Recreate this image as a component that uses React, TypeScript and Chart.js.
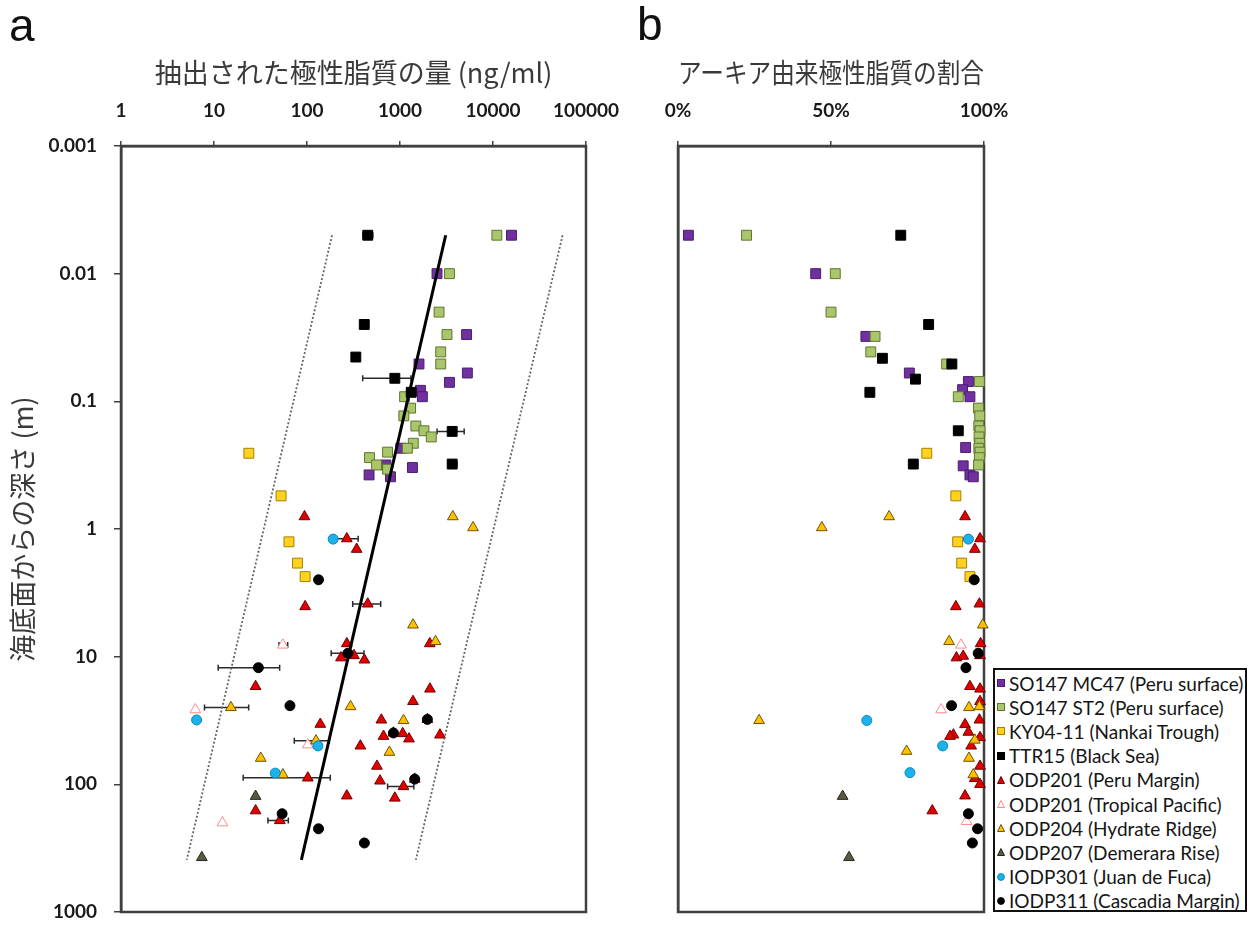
import React, { useEffect, useRef } from 'react';
import { Chart, registerables } from 'chart.js';

Chart.register(...registerables);

// ---------- text ----------
const amountTitle = '抽出された極性脂質の量 (ng/ml)';
const fractionTitle = 'アーキア由来極性脂質の割合';
const depthTitle = '海底面からの深さ (m)';

// ---------- tick labels ----------
const amountTicks = [1, 10, 100, 1000, 10000, 100000];
const depthTicks = [0.001, 0.01, 0.1, 1, 10, 100, 1000];
const fractionTicks = [0, 50, 100];

const seriesNames = [
  'SO147 MC47 (Peru surface)',
  'SO147 ST2 (Peru surface)',
  'KY04-11 (Nankai Trough)',
  'TTR15 (Black Sea)',
  'ODP201 (Peru Margin)',
  'ODP201 (Tropical Pacific)',
  'ODP204 (Hydrate Ridge)',
  'ODP207 (Demerara Rise)',
  'IODP301 (Juan de Fuca)',
  'IODP311 (Cascadia Margin)',
];

// ---------- panel a: [amount ng/ml, depth m] ----------
const mc47Amount = [
  [15800, 0.005], [2500, 0.01], [5200, 0.03], [1600, 0.051], [5300, 0.06], [3400, 0.071],
  [1660, 0.082], [1740, 0.092], [1020, 0.233], [705, 0.315], [1360, 0.33], [465, 0.377], [790, 0.39],
];
const st2Amount = [
  [11000, 0.005], [3400, 0.01], [2630, 0.02], [3200, 0.03], [2740, 0.041], [2740, 0.051],
  [1120, 0.092], [1300, 0.113], [1100, 0.13], [1480, 0.156], [1810, 0.17], [2170, 0.19],
  [1390, 0.213], [1200, 0.233], [735, 0.25], [470, 0.276], [560, 0.315], [735, 0.34],
];
const ky0411Amount = [[23.7, 0.255], [52.6, 0.55], [64, 1.26], [79, 1.85], [95.5, 2.36]];
const ttr15Amount = [
  [450, 0.005], [413, 0.025], [335, 0.045], [880, 0.066], [1320, 0.085], [3640, 0.172], [3640, 0.31],
];
const odp201PeruAmount = [
  [94, 0.8], [268, 1.19], [342, 1.44], [95.5, 4.05], [450, 3.86], [2090, 7.9], [268, 7.9],
  [232, 10.2], [320, 9.8], [414, 10.6], [28, 17.1], [2100, 17.9], [1380, 22.4], [139, 33.8],
  [630, 31.3], [1970, 31], [665, 42], [850, 39.6], [1070, 40], [1250, 44], [2690, 41], [375, 50],
  [565, 72], [102, 89], [610, 94], [1440, 91], [1090, 104], [880, 128], [268, 123], [28, 161], [51, 192],
];
const odp201TropAmount = [[55, 8.1], [6.3, 26], [102, 49], [12.3, 200]];
const odp204Amount = [
  [3700, 0.8], [6100, 0.975], [1380, 5.64], [2410, 7.6], [15.2, 25], [294, 24.6], [1090, 31.6],
  [125, 45.6], [770, 56], [31.8, 62.4], [55, 84],
];
const odp207Amount = [[28, 124], [7.4, 374]];
const iodp301Amount = [[191, 1.2], [6.5, 31.3], [131, 50], [45.6, 81.7]];
const iodp311Amount = [
  [133, 2.5], [275, 9.4], [30, 12.2], [65.6, 24.2], [1970, 31], [850, 39.6], [1440, 91],
  [54, 170], [133, 223], [414, 288],
];

// error bars: [low, high, depth]
const amountErrorBars = [
  [400, 510, 0.005], [397, 1310, 0.066], [2500, 4900, 0.172], [3300, 4100, 0.31],
  [205, 355, 1.19], [310, 620, 3.86], [50, 62, 8.1], [182, 410, 9.4], [11.1, 50.8, 12.2],
  [7.9, 23.6, 25], [73, 174, 45.6], [20.6, 178, 89], [735, 1410, 104], [38, 63, 192],
];

// trend lines: [amount, depth]
const trendCenter = [[3100, 0.005], [87, 390]];
const trendLower = [[186, 0.005], [5.1, 390]];
const trendUpper = [[56000, 0.005], [1480, 390]];

// ---------- panel b: [archaeal share %, depth m] ----------
const mc47Fraction = [
  [3.4, 0.005], [45, 0.01], [61.4, 0.031], [75.6, 0.06], [94.9, 0.07], [93, 0.081],
  [95.4, 0.092], [94, 0.23], [93.2, 0.32], [95.4, 0.377], [96.5, 0.39],
];
const st2Fraction = [
  [22.4, 0.005], [51.4, 0.01], [50, 0.02], [64.4, 0.031], [63, 0.041], [87.8, 0.051], [98.5, 0.07],
  [91.6, 0.092], [98.2, 0.113], [98.6, 0.13], [98.3, 0.156], [98.7, 0.17], [98.4, 0.19],
  [98.6, 0.213], [98.3, 0.233], [98.7, 0.25], [98.5, 0.276], [98.2, 0.315],
];
const ky0411Fraction = [[81.3, 0.255], [90.8, 0.55], [91.4, 1.26], [92.7, 1.85], [95.4, 2.36]];
const ttr15Fraction = [
  [72.8, 0.005], [81.9, 0.025], [66.8, 0.046], [89.5, 0.051], [77.6, 0.067], [62.7, 0.085],
  [91.6, 0.17], [76.9, 0.31],
];
const odp201PeruFraction = [
  [93.8, 0.8], [98.7, 1.19], [97, 1.44], [90.8, 4.05], [98.5, 3.86], [98.9, 7.9], [91, 10.2],
  [93.2, 9.9], [98.7, 9.8], [95.4, 17.1], [98.7, 17.9], [98.7, 22.4], [98.5, 31.3], [93.8, 34],
  [94.9, 39], [90, 41], [88.9, 42], [98.7, 43], [95.8, 50], [98.7, 72], [97, 90], [98.7, 100],
  [93.8, 123], [83.1, 161],
];
const odp201TropFraction = [[92.5, 8.1], [86, 26], [94.3, 195]];
const odp204Fraction = [
  [69, 0.8], [47, 0.975], [99.6, 5.64], [88.6, 7.6], [95.1, 25], [98.5, 24.6], [26.5, 31.6],
  [97, 45], [74.7, 55], [95.1, 62.4], [96.5, 84],
];
const odp207Fraction = [[53.8, 124], [55.9, 374]];
const iodp301Fraction = [[94.9, 1.2], [61.7, 31.6], [86.5, 50], [75.8, 81]];
const iodp311Fraction = [
  [96.8, 2.5], [98.1, 9.4], [94.1, 12.2], [89.4, 24.2], [94.9, 170], [97.9, 223], [96.2, 288],
];

const amountSeries = [
  mc47Amount, st2Amount, ky0411Amount, ttr15Amount, odp201PeruAmount,
  odp201TropAmount, odp204Amount, odp207Amount, iodp301Amount, iodp311Amount,
];
const fractionSeries = [
  mc47Fraction, st2Fraction, ky0411Fraction, ttr15Fraction, odp201PeruFraction,
  odp201TropFraction, odp204Fraction, odp207Fraction, iodp301Fraction, iodp311Fraction,
];

// ---------- styles ----------
const markerStyles = [
  { shape: 'rect', fill: '#7030A0', stroke: '#4A1E6E', r: 7 },
  { shape: 'rect', fill: '#A9C66A', stroke: '#5F7530', r: 7 },
  { shape: 'rect', fill: '#FFD21F', stroke: '#A87F00', r: 7 },
  { shape: 'rect', fill: '#000000', stroke: '#000000', r: 7 },
  { shape: 'triangle', fill: '#E00000', stroke: '#700000', r: 6.2 },
  { shape: 'triangle', fill: '#FFFFFF', stroke: '#FF8A8A', r: 6.2 },
  { shape: 'triangle', fill: '#FFC000', stroke: '#6F5400', r: 6.2 },
  { shape: 'triangle', fill: '#5A5A44', stroke: '#26261C', r: 6.2 },
  { shape: 'circle', fill: '#1CB3EC', stroke: '#0B86BA', r: 5 },
  { shape: 'circle', fill: '#000000', stroke: '#000000', r: 5 },
];

const AXIS = '#404040';
const CJK = '"Noto Sans CJK JP", "Noto Sans", sans-serif';
const TICK_FONT = { family: 'Lato, "Open Sans", sans-serif', size: 19, weight: 'bold' as const };

const toPts = (arr: number[][]) => arr.map(([x, y]) => ({ x, y }));

const pointDatasets = (series: number[][][]) =>
  series.map((arr, i) => {
    const s = markerStyles[i];
    return {
      label: seriesNames[i],
      data: toPts(arr),
      pointStyle: s.shape,
      pointRadius: s.r,
      pointHoverRadius: s.r,
      backgroundColor: s.fill,
      borderColor: s.stroke,
      borderWidth: 1,
      showLine: false,
      clip: false,
      order: 20 - i,
    };
  });

const zeroPad = (s: any) => {
  s.paddingLeft = 0;
  s.paddingRight = 0;
  s.paddingTop = 0;
  s.paddingBottom = 0;
};

const framePlugin = {
  id: 'frame',
  beforeDatasetsDraw(chart: any) {
    const { ctx, chartArea } = chart;
    const { left, top, right, bottom } = chartArea;
    ctx.save();
    ctx.strokeStyle = AXIS;
    ctx.lineWidth = 2.5;
    ctx.strokeRect(left, top, right - left, bottom - top);
    ctx.restore();
  },
};

const errorBarPlugin = {
  id: 'errorBars',
  beforeDatasetsDraw(chart: any, _args: any, opts: any) {
    const bars = opts && opts.bars;
    if (!bars) return;
    const { ctx, scales } = chart;
    ctx.save();
    ctx.strokeStyle = '#2a2a2a';
    ctx.lineWidth = 1.5;
    for (const [lo, hi, d] of bars) {
      const y = scales.y.getPixelForValue(d);
      const x1 = scales.x.getPixelForValue(lo);
      const x2 = scales.x.getPixelForValue(hi);
      ctx.beginPath();
      ctx.moveTo(x1, y);
      ctx.lineTo(x2, y);
      ctx.moveTo(x1, y - 3);
      ctx.lineTo(x1, y + 3);
      ctx.moveTo(x2, y - 3);
      ctx.lineTo(x2, y + 3);
      ctx.stroke();
    }
    ctx.restore();
  },
};

const depthAxis = (showLabels: boolean, width: number) => ({
  type: 'logarithmic' as const,
  reverse: true,
  min: 0.001,
  max: 1000,
  afterBuildTicks: (s: any) => {
    s.ticks = depthTicks.map((v) => ({ value: v }));
  },
  afterFit: (s: any) => {
    s.width = width;
    zeroPad(s);
  },
  ticks: {
    display: showLabels,
    callback: (v: any) => String(v),
    font: TICK_FONT,
    color: '#1a1a1a',
    padding: 17,
    autoSkip: false,
  },
  grid: {
    display: showLabels,
    drawOnChartArea: false,
    drawTicks: true,
    tickLength: 7,
    color: AXIS,
    lineWidth: 1.5,
  },
  border: { display: true, color: AXIS, width: 2.5 },
  title: showLabels
    ? { display: true, text: depthTitle, font: { family: CJK, size: 27 }, color: '#3a3a3a', padding: { top: 7, bottom: 0 } }
    : { display: false },
});

const amountAxis = {
  type: 'logarithmic' as const,
  position: 'top' as const,
  min: 1,
  max: 100000,
  afterBuildTicks: (s: any) => {
    s.ticks = amountTicks.map((v) => ({ value: v }));
  },
  afterFit: (s: any) => {
    s.height = 146;
    zeroPad(s);
  },
  ticks: {
    callback: (v: any) => String(v),
    font: TICK_FONT,
    color: '#1a1a1a',
    padding: 19,
    maxRotation: 0,
    autoSkip: false,
  },
  grid: { drawOnChartArea: false, drawTicks: true, tickLength: 5, color: AXIS, lineWidth: 1.5 },
  border: { display: true, color: AXIS, width: 2.5 },
  title: {
    display: true,
    text: amountTitle,
    font: { family: CJK, size: 27 },
    color: '#3a3a3a',
    padding: { top: 57, bottom: 0 },
  },
};

const fractionAxis = {
  type: 'linear' as const,
  position: 'top' as const,
  min: 0,
  max: 100,
  afterBuildTicks: (s: any) => {
    s.ticks = fractionTicks.map((v) => ({ value: v }));
  },
  afterFit: (s: any) => {
    s.height = 146;
    zeroPad(s);
  },
  ticks: {
    callback: (v: any) => v + '%',
    font: TICK_FONT,
    color: '#1a1a1a',
    padding: 19,
    maxRotation: 0,
    autoSkip: false,
  },
  grid: { drawOnChartArea: false, drawTicks: true, tickLength: 5, color: AXIS, lineWidth: 1.5 },
  border: { display: true, color: AXIS, width: 2.5 },
  title: {
    display: true,
    text: fractionTitle,
    font: { family: CJK, size: 27 },
    color: '#3a3a3a',
    padding: { top: 57, bottom: 0 },
  },
};

function makeAmountConfig(): any {
  return {
    type: 'scatter',
    data: {
      datasets: [
        {
          label: 'trend',
          data: toPts(trendCenter),
          showLine: true,
          borderColor: '#000',
          borderWidth: 3,
          pointRadius: 0,
          clip: false,
          order: -3,
        },
        {
          label: 'lower',
          data: toPts(trendLower),
          showLine: true,
          borderColor: '#666',
          borderWidth: 1.8,
          borderDash: [2, 2],
          pointRadius: 0,
          order: -2,
        },
        {
          label: 'upper',
          data: toPts(trendUpper),
          showLine: true,
          borderColor: '#666',
          borderWidth: 1.8,
          borderDash: [2, 2],
          pointRadius: 0,
          order: -1,
        },
        ...pointDatasets(amountSeries),
      ],
    },
    options: {
      responsive: false,
      animation: false,
      events: [],
      layout: { padding: { left: 0, top: 0, right: 44, bottom: 13 } },
      plugins: {
        legend: { display: false },
        tooltip: { enabled: false },
        errorBars: { bars: amountErrorBars },
      },
      scales: { x: amountAxis, y: depthAxis(true, 121) },
    },
    plugins: [framePlugin, errorBarPlugin],
  };
}

function makeFractionConfig(): any {
  return {
    type: 'scatter',
    data: { datasets: pointDatasets(fractionSeries) },
    options: {
      responsive: false,
      animation: false,
      events: [],
      layout: { padding: { left: 0, top: 0, right: 267, bottom: 13 } },
      plugins: { legend: { display: false }, tooltip: { enabled: false } },
      scales: { x: fractionAxis, y: depthAxis(false, 48) },
    },
    plugins: [framePlugin],
  };
}

function LegendMarker({ idx }: { idx: number }) {
  const s = markerStyles[idx];
  return (
    <svg width={8} height={8} style={{ flex: '0 0 auto', marginRight: 4 }}>
      {s.shape === 'rect' && <rect x={0.5} y={0.5} width={7} height={7} fill={s.fill} stroke={s.stroke} strokeWidth={1} />}
      {s.shape === 'triangle' && <polygon points="4,0.5 7.5,7.5 0.5,7.5" fill={s.fill} stroke={s.stroke} strokeWidth={1} />}
      {s.shape === 'circle' && <circle cx={4} cy={4} r={3.4} fill={s.fill} stroke={s.stroke} strokeWidth={1} />}
    </svg>
  );
}

export default function App() {
  const aRef = useRef<HTMLCanvasElement>(null);
  const bRef = useRef<HTMLCanvasElement>(null);

  useEffect(() => {
    const ca = new Chart(aRef.current as HTMLCanvasElement, makeAmountConfig());
    const cb = new Chart(bRef.current as HTMLCanvasElement, makeFractionConfig());
    return () => {
      ca.destroy();
      cb.destroy();
    };
  }, []);

  const letterStyle: React.CSSProperties = {
    position: 'absolute',
    font: '46px "Liberation Sans", Arial, sans-serif',
    lineHeight: 1,
    color: '#111',
  };

  return (
    <div style={{ position: 'absolute', left: 0, top: 0, width: 1251, height: 925, background: '#fff', overflow: 'hidden' }}>
      <canvas ref={aRef} width={630} height={925} style={{ position: 'absolute', left: 0, top: 0 }} />
      <canvas ref={bRef} width={621} height={925} style={{ position: 'absolute', left: 630, top: 0 }} />
      <div style={{ ...letterStyle, left: 9, top: 2 }}>a</div>
      <div style={{ ...letterStyle, left: 637, top: 1 }}>b</div>
      <div
        style={{
          position: 'absolute',
          left: 993,
          top: 668,
          width: 254,
          height: 244,
          boxSizing: 'border-box',
          border: '2px solid #111',
          background: '#fff',
          padding: '1px 0 0 2px',
        }}
      >
        {seriesNames.map((n, i) => (
          <div
            key={n}
            style={{
              height: 24.2,
              display: 'flex',
              alignItems: 'center',
              font: '19px Lato, "Open Sans", sans-serif',
              color: '#151515',
              whiteSpace: 'nowrap',
            }}
          >
            <LegendMarker idx={i} />
            <span>{n}</span>
          </div>
        ))}
      </div>
    </div>
  );
}
